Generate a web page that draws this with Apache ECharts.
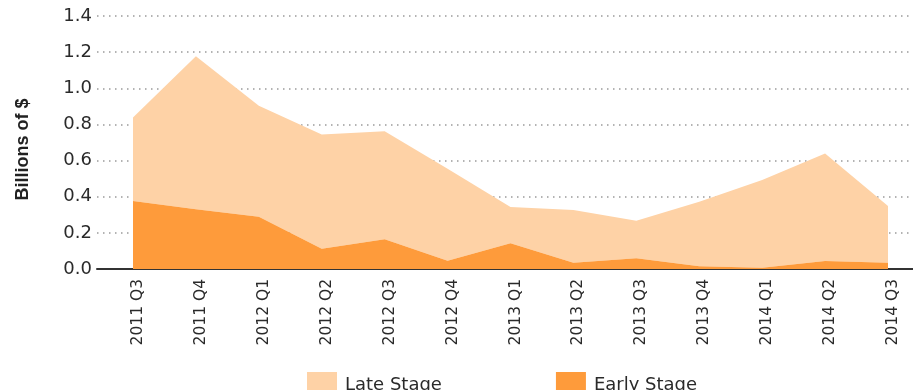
<!DOCTYPE html>
<html>
<head>
<meta charset="utf-8">
<script src="https://cdn.jsdelivr.net/npm/echarts@6/dist/echarts.min.js"></script>
<style>
  html, body { margin: 0; padding: 0; background: #ffffff; }
  #chart { width: 913px; height: 390px; }
</style>
</head>
<body>
<div id="chart"></div>
<script>
// Quarterly funding, billions of dollars
const quarters = ['2011 Q3', '2011 Q4', '2012 Q1', '2012 Q2', '2012 Q3', '2012 Q4',
                  '2013 Q1', '2013 Q2', '2013 Q3', '2013 Q4', '2014 Q1', '2014 Q2', '2014 Q3'];
const earlyStage = [0.376, 0.331, 0.289, 0.112, 0.164, 0.046, 0.142, 0.035, 0.059, 0.015, 0.007, 0.044, 0.035];
const lateStage  = [0.462, 0.846, 0.615, 0.632, 0.598, 0.509, 0.201, 0.291, 0.208, 0.357, 0.485, 0.595, 0.313];
const yTicks = [0, 0.2, 0.4, 0.6, 0.8, 1.0, 1.2, 1.4];

const LATE_COLOR = '#fed2a6';
const EARLY_COLOR = '#fe9b3b';

const chart = echarts.init(document.getElementById('chart'), null, { renderer: 'canvas' });

const yMin = yTicks[0];
const yMax = yTicks[yTicks.length - 1];
const yStep = yTicks[1] - yTicks[0];

chart.setOption({
  animation: false,
  backgroundColor: '#ffffff',
  legend: {
    left: 302,
    top: 367,
    itemWidth: 30,
    itemHeight: 26,
    itemGap: 114,
    icon: 'rect',
    data: ['Late Stage', 'Early Stage'],
    textStyle: {
      fontFamily: 'DejaVu Sans',
      fontSize: 18,
      color: '#2a2a2a',
      padding: [0, 0, 0, 3]
    }
  },
  grid: [
    // frame: value axis, dotted guides and baseline
    { left: 97, right: 0, top: 16, bottom: 121 },
    // plotting area for the stacked areas
    { left: 133, right: 25, top: 16, bottom: 121 }
  ],
  xAxis: [
    {
      gridIndex: 0,
      type: 'value',
      min: 0,
      max: 1,
      axisLine: { show: true, onZero: false, lineStyle: { color: '#333333', width: 2 } },
      axisTick: { show: false },
      axisLabel: { show: false },
      splitLine: { show: false }
    },
    {
      gridIndex: 1,
      type: 'category',
      boundaryGap: false,
      data: quarters,
      axisLine: { show: false },
      axisTick: { show: false },
      axisLabel: {
        rotate: 90,
        margin: 10,
        fontFamily: 'DejaVu Sans',
        fontSize: 15.5,
        color: '#2a2a2a',
        interval: 0,
        verticalAlign: 'top',
        lineHeight: 10
      },
      splitLine: { show: false }
    }
  ],
  yAxis: [
    {
      gridIndex: 0,
      type: 'value',
      min: yMin,
      max: yMax,
      interval: yStep,
      name: 'Billions of $',
      nameLocation: 'middle',
      nameGap: 65,
      nameTextStyle: {
        fontFamily: 'Liberation Sans',
        fontWeight: 'bold',
        fontSize: 18,
        color: '#222222',
        padding: [0, 14, 0, 0]
      },
      axisLine: { show: false },
      axisTick: { show: false },
      axisLabel: {
        margin: 5,
        fontFamily: 'DejaVu Sans',
        fontSize: 18,
        color: '#2a2a2a',
        formatter: v => v.toFixed(1)
      },
      splitLine: {
        show: true,
        lineStyle: { color: '#9a9a9a', width: 1.5, type: [1.5, 4.5] }
      }
    },
    {
      gridIndex: 1,
      type: 'value',
      min: yMin,
      max: yMax,
      interval: yStep,
      show: false,
      splitLine: { show: false }
    }
  ],
  series: [
    {
      name: 'Early Stage',
      type: 'line',
      xAxisIndex: 1,
      yAxisIndex: 1,
      stack: 'total',
      data: earlyStage,
      symbol: 'none',
      z: 3,
      lineStyle: { width: 0 },
      itemStyle: { color: EARLY_COLOR },
      areaStyle: { color: EARLY_COLOR, opacity: 1 }
    },
    {
      name: 'Late Stage',
      type: 'line',
      xAxisIndex: 1,
      yAxisIndex: 1,
      stack: 'total',
      data: lateStage,
      symbol: 'none',
      z: 2,
      lineStyle: { width: 0 },
      itemStyle: { color: LATE_COLOR },
      areaStyle: { color: LATE_COLOR, opacity: 1 }
    }
  ]
});
</script>
</body>
</html>
